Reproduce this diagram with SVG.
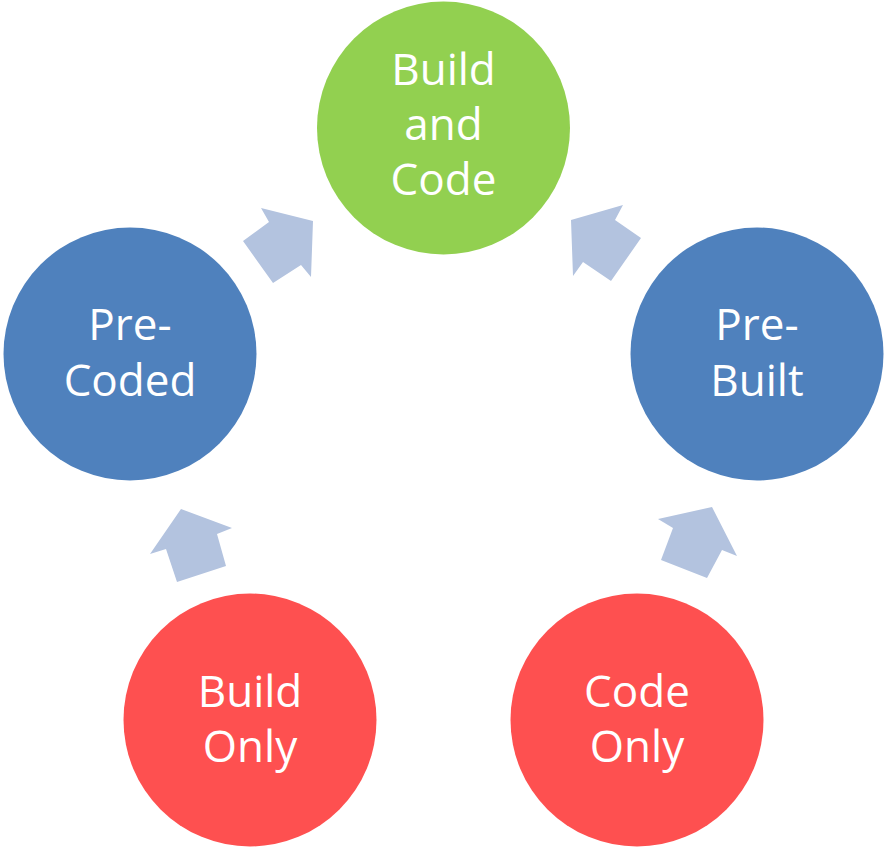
<svg xmlns="http://www.w3.org/2000/svg" width="884" height="850" viewBox="0 0 884 850">
<style>
.t{font-family:"Open Sans","Liberation Sans",sans-serif;font-size:44px;fill:#ffffff;text-anchor:middle}
.arr{fill:#b3c3df}
.green{fill:#92d050}
.blue{fill:#4f81bd}
.red{fill:#fe5050}
</style>
<rect width="884" height="850" fill="#ffffff"/>
<g id="connectors">
<polygon class="arr" points="313,221 311,277 301,265 273,283 243,241 269,222 261,208"/>
<polygon class="arr" points="571,220 623,205 615,220 641,238 611,281 583,262 573,276"/>
<polygon class="arr" points="181,509 232,528 217,534 226,566 177,582 166,549 150,554"/>
<polygon class="arr" points="658,519 712,507 737,556 722,550 707,578 661,560 673,528"/>
</g>
<g id="build-and-code">
<circle class="green" cx="443.5" cy="128" r="126.5"/>
<text class="t" x="443.5" y="85">Build</text>
<text class="t" x="443.5" y="140">and</text>
<text class="t" x="443.5" y="195">Code</text>
</g>
<g id="pre-coded">
<circle class="blue" cx="130" cy="354" r="126.5"/>
<text class="t" x="130" y="340">Pre-</text>
<text class="t" x="130" y="396">Coded</text>
</g>
<g id="pre-built">
<circle class="blue" cx="757" cy="354" r="126.5"/>
<text class="t" x="757" y="340">Pre-</text>
<text class="t" x="757" y="396">Built</text>
</g>
<g id="build-only">
<circle class="red" cx="250" cy="720" r="126.5"/>
<text class="t" x="250" y="707">Build</text>
<text class="t" x="250" y="762">Only</text>
</g>
<g id="code-only">
<circle class="red" cx="637" cy="720" r="126.5"/>
<text class="t" x="637" y="707">Code</text>
<text class="t" x="637" y="762">Only</text>
</g>
</svg>
